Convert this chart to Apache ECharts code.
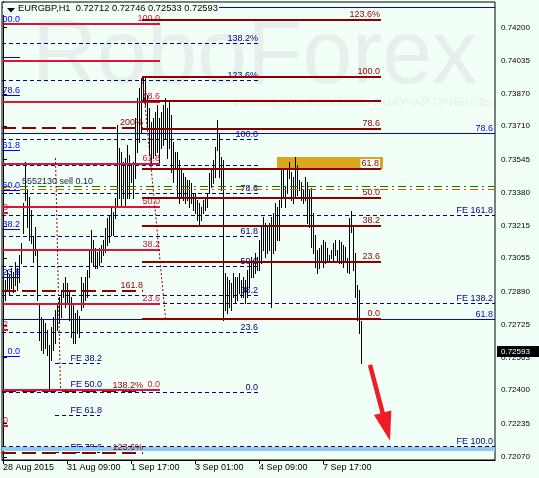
<!DOCTYPE html>
<html><head><meta charset="utf-8">
<script src="https://cdn.jsdelivr.net/npm/echarts@6/dist/echarts.min.js"></script>
<style>html,body{margin:0;padding:0;background:#F2FFF7}#c{width:539px;height:478px}</style>
</head><body><div id="c"></div>
<script>
// ---------- data ----------
const xLabels = ['28 Aug 2015','31 Aug 09:00','1 Sep 17:00','3 Sep 01:00','4 Sep 09:00','7 Sep 17:00'];
const xLabelIdx = [0,32,64,96,128,160];
const yTicks = [0.74200,0.74035,0.73870,0.73710,0.73545,0.73380,0.73215,0.73055,0.72890,0.72725,0.72563,0.72400,0.72235,0.72070];
const headerText = 'EURGBP,H1  0.72712 0.72746 0.72533 0.72593';
const lastClose = 0.72593;

const highs = [0.72986,0.72947,0.72996,0.72972,0.73006,0.72986,0.73036,0.73006,0.73071,0.73130,
0.73328,0.73531,0.73393,0.73358,0.73294,0.73160,0.73209,0.73095,0.72823,0.72764,
0.72749,0.72734,0.72699,0.72625,0.72714,0.72764,0.72798,0.72823,0.72863,0.72897,
0.72932,0.72962,0.72932,0.72897,0.72863,0.72833,0.72783,0.72798,0.72769,0.72962,
0.72932,0.72962,0.72996,0.73095,0.73195,0.73145,0.73105,0.73086,0.73105,0.73120,
0.73145,0.73204,0.73254,0.73269,0.73303,0.73284,0.73353,0.73715,0.73601,0.73581,
0.73531,0.73551,0.73616,0.73566,0.73516,0.73531,0.73749,0.73848,0.73898,0.73947,
0.73947,0.73952,0.73863,0.73799,0.73729,0.73749,0.73779,0.73814,0.73749,0.73779,
0.73814,0.73848,0.73799,0.73829,0.73764,0.73630,0.73581,0.73581,0.73541,0.73492,
0.73477,0.73457,0.73442,0.73442,0.73427,0.73378,0.73378,0.73343,0.73328,0.73308,
0.73343,0.73358,0.73378,0.73477,0.73492,0.73541,0.73606,0.73739,0.73675,0.73556,
0.73541,0.72982,0.72962,0.72947,0.72932,0.72982,0.72962,0.72962,0.72982,0.72947,
0.72962,0.72947,0.72996,0.73031,0.73061,0.73046,0.73081,0.73061,0.73145,0.73209,
0.73259,0.73229,0.73209,0.73229,0.73259,0.73279,0.73328,0.73308,0.73343,0.73502,
0.73492,0.73408,0.73492,0.73531,0.73482,0.73457,0.73556,0.73516,0.73442,0.73432,
0.73393,0.73457,0.73432,0.73393,0.73403,0.73279,0.73170,0.73095,0.73105,0.73120,
0.73145,0.73135,0.73105,0.73071,0.73095,0.73130,0.73145,0.73095,0.73145,0.73135,
0.73120,0.73110,0.73056,0.73254,0.73289,0.73219,0.73081,0.72922,0.72897,0.72746];
const lows = [0.72868,0.72848,0.72897,0.72873,0.72907,0.72887,0.72922,0.72897,0.72937,0.73031,
0.73180,0.73343,0.73209,0.73145,0.73130,0.73036,0.73071,0.72848,0.72650,0.72600,
0.72585,0.72610,0.72575,0.72402,0.72551,0.72600,0.72635,0.72699,0.72734,0.72764,
0.72863,0.72813,0.72833,0.72749,0.72665,0.72635,0.72635,0.72684,0.72665,0.72798,
0.72813,0.72848,0.72863,0.72962,0.73036,0.73021,0.73006,0.73006,0.73021,0.73036,
0.73071,0.73086,0.73120,0.73135,0.73170,0.73170,0.73254,0.73318,0.73353,0.73318,
0.73353,0.73318,0.73353,0.73353,0.73432,0.73353,0.73452,0.73581,0.73630,0.73680,
0.73829,0.73814,0.73700,0.73566,0.73531,0.73551,0.73566,0.73581,0.73516,0.73601,
0.73616,0.73650,0.73551,0.73601,0.73482,0.73432,0.73502,0.73353,0.73328,0.73358,
0.73343,0.73328,0.73343,0.73308,0.73328,0.73294,0.73279,0.73244,0.73219,0.73244,
0.73279,0.73294,0.73308,0.73378,0.73408,0.73427,0.73457,0.73591,0.73457,0.73393,
0.72749,0.72798,0.72783,0.72813,0.72798,0.72863,0.72833,0.72848,0.72882,0.72863,
0.72863,0.72833,0.72863,0.72912,0.72962,0.72962,0.72982,0.72996,0.72996,0.73031,
0.73095,0.73061,0.73081,0.73095,0.72813,0.73081,0.73095,0.73145,0.73145,0.73308,
0.73358,0.73308,0.73378,0.73452,0.73343,0.73328,0.73358,0.73368,0.73393,0.73343,
0.73328,0.73343,0.73229,0.73209,0.73110,0.73081,0.73011,0.72982,0.73006,0.73036,
0.73011,0.73031,0.73046,0.73036,0.73056,0.73046,0.73071,0.73046,0.73031,0.73031,
0.73011,0.73036,0.72986,0.72982,0.73185,0.72996,0.72863,0.72749,0.72684,0.72533];

// Fibonacci objects: anchors are [level, price] pairs
const crimsonLevels = [0,23.6,38.2,50,61.8,78.6,90,100];
const crimsonTexts  = ['0.0','23.6','38.2','50.0','61.8','78.6','','100.0'];
const crimsonAnchors = [[0,0.72401],[100,0.74217]];
const maroonLevels = [0,23.6,38.2,50,61.8,78.6,90,100,123.6];
const maroonTexts  = ['0.0','23.6','38.2','50.0','61.8','78.6','','100.0','123.6%'];
const maroonAnchors = [[0,0.72756],[100,0.73954]];
const navyLevels = [0,23.6,38.2,50,61.8,78.6,90,100,123.6,138.2];
const navyTexts  = ['0.0','23.6','38.2','50.0','61.8','78.6','','100.0','123.6%','138.2%'];
const navyAnchors = [[0,0.72391],[100,0.73642]];
const blueRLevels = [61.8,78.6,90];
const blueRTexts  = ['61.8','78.6',''];
const blueRAnchors = [[61.8,0.72749],[78.6,0.73672]];
const blueLLevels = [0,23.6,38.2,50,61.8,78.6,90,100];
const blueLTexts  = ['0.0','23.6','38.2','50.0','61.8','78.6','','00.0'];
const blueLAnchors = [[0,0.72570],[100,0.74217]];
const expLevels = [123.6,138.2,161.8,200];
const expTexts  = ['123.6%','138.2%','161.8','200%'];
const expAnchors = [[123.6,0.72089],[200,0.73701]];
const feRLevels = [100,138.2,161.8];
const feRTexts  = ['FE 100.0','FE 138.2','FE 161.8'];
const feRAnchors = [[100,0.72123],[161.8,0.73265]];
const feLLevels = [38.2,50,61.8,78.6];
const feLTexts  = ['FE 38.2','FE 50.0','FE 61.8','FE 78.6'];
const feLAnchors = [[38.2,0.72535],[78.6,0.72089]];
const edgePrices = [0.73280,0.72699,0.72223];
const edgeTexts  = ['8','2','0'];

const blue50Price = 0.72101;
const bandPrice = 0.72111;
const greenOrderPrice = 0.73409;
const redOrderPrice = 0.73396;
const orderText = '5552130 sell 0.10';
const boxRange = [137, 190, 0.73557, 0.73497];
const dotted1 = [[26,0.73552],[28.5,0.72401]];
const dotted2 = [[69.5,0.73949],[81,0.72759]];
const arrowPts = [[183.5,0.72526],[193.5,0.72149]];

// ---------- styles ----------
const BG = '#F2FFF7';
const FONT = '"Liberation Sans", Arial, sans-serif';
const CRIMSON = '#DC143C', MAROON = '#8B0000', NAVY = '#000080', BLUE = '#0000FF';

function fibPrice(anchors, lvl){
  const a = anchors[0], b = anchors[1];
  return a[1] + (lvl - a[0]) * (b[1] - a[1]) / (b[0] - a[0]);
}
const levelItems = [];
function addSet(levels, texts, anchors, st){
  levels.forEach((l, i) => levelItems.push(Object.assign({price: fibPrice(anchors, l), text: texts[i]}, st)));
}
function addLine(price, text, st){ levelItems.push(Object.assign({price, text}, st)); }

addSet(navyLevels, navyTexts, navyAnchors, {x1:-0.5, x2:127.5, lx:127.5, color:NAVY, width:1, dash:[4,3]});
addSet(feRLevels, feRTexts, feRAnchors, {x1:-0.5, x2:246, lx:245, color:NAVY, width:1, dash:[4,3]});
addSet(feLLevels, feLTexts, feLAnchors, {x1:26, x2:48.5, lx:49.5, color:NAVY, width:1, dash:[4,3]});
addSet(blueRLevels, blueRTexts, blueRAnchors, {x1:-0.5, x2:246, lx:245, color:BLUE, width:1});
addLine(blue50Price, '', {x1:70, x2:246, lx:245, color:BLUE, width:1});
addLine(bandPrice, '', {x1:-0.5, x2:246, lx:245, color:'#8FCBF0', width:4});
addSet(blueLLevels, blueLTexts, blueLAnchors, {x1:-0.5, x2:8.5, lx:8.5, color:BLUE, width:1});
addSet(expLevels, expTexts, expAnchors, {x1:-0.5, x2:70, lx:70, color:MAROON, width:2, dash:[14,6]});
addSet(crimsonLevels, crimsonTexts, crimsonAnchors, {x1:-0.5, x2:78.5, lx:78.5, color:CRIMSON, width:2});
edgePrices.forEach((p, i) => addLine(p, edgeTexts[i], {x1:-0.5, x2:2.5, lx:2.5, color:CRIMSON, width:2}));
addSet(maroonLevels, maroonTexts, maroonAnchors, {x1:69.5, x2:189, lx:188.5, color:MAROON, width:2});
addLine(greenOrderPrice, orderText, {x1:-0.5, x2:246, lx:9.5, color:'#008000', width:1, dash:[8,4,2,4], labelLeft:true, labelColor:'#1a1a3a'});
addLine(redOrderPrice, '', {x1:-0.5, x2:246, lx:245, color:'#FF4500', width:1, dash:[8,4,2,4]});

function crisp(v, w){ return (Math.round(w) % 2 === 1) ? Math.floor(v) + 0.5 : Math.round(v); }

const chart = echarts.init(document.getElementById('c'), null, {renderer:'canvas'});
chart.setOption({
  backgroundColor: BG,
  animation: false,
  grid: {left:2, right:44, top:2, bottom:18, show:true, borderColor:'#000', borderWidth:1, backgroundColor:'transparent'},
  xAxis: {
    type:'value', min:-0.5, max:246,
    axisLine:{show:true, lineStyle:{color:'#000', width:1}},
    splitLine:{show:false},
    axisTick:{show:true, customValues:xLabelIdx, length:4, lineStyle:{color:'#000'}},
    axisLabel:{customValues:xLabelIdx, formatter:v => xLabels[xLabelIdx.indexOf(Math.round(v))] || '',
      align:'left', margin:3, fontSize:9, fontFamily:'Liberation Sans', color:'#000'}
  },
  yAxis: {
    type:'value', position:'right', min:0.72054, max:0.743265,
    axisLine:{show:true, lineStyle:{color:'#000', width:1}},
    splitLine:{show:false},
    axisTick:{show:true, customValues:yTicks, length:4, lineStyle:{color:'#000'}},
    axisLabel:{customValues:yTicks, formatter:v => v.toFixed(5), margin:6, fontSize:8, fontFamily:'Liberation Sans', color:'#000'}
  },
  graphic: [
    {type:'text', z:-5, silent:true, left:32, top:13, style:{text:'RoboForex', font:'90px ' + FONT, fill:'#E6EFEB'}},
    {type:'text', z:-5, silent:true, left:234, top:97, style:{text:'ИСПОЛЬЗУЙ РОБОТОВ - ПОЛУЧАЙ ПРИБЫЛЬ', font:'11.5px ' + FONT, fill:'#E6EFEB'}},
    {type:'rect', z:100, silent:true, shape:{x:3, y:3, width:216, height:12}, style:{fill:BG}},
    {type:'polygon', z:101, silent:true, shape:{points:[[7,8],[15,8],[11,12.5]]}, style:{fill:'#000'}},
    {type:'text', z:101, silent:true, left:18, top:4, style:{text:headerText, font:'9.3px ' + FONT, fill:'#000'}}
  ],
  series: [
    { // rectangle object (background)
      type:'custom', coordinateSystem:'cartesian2d', silent:true, clip:false,
      data:[boxRange], encode:{x:[0,1], y:[2,3]},
      renderItem:(params, api) => {
        const a = api.coord([api.value(0), api.value(2)]), b = api.coord([api.value(1), api.value(3)]);
        return {type:'rect', shape:{x:Math.round(a[0]), y:Math.round(a[1]), width:Math.round(b[0]-a[0]), height:Math.round(b[1]-a[1])}, style:{fill:'#DAA520'}};
      }
    },
    { // price bars
      type:'custom', coordinateSystem:'cartesian2d', silent:true, clip:false,
      data: highs.map((h, i) => [i, h, lows[i]]), encode:{x:0, y:[1,2]},
      renderItem:(params, api) => {
        const a = api.coord([api.value(0), api.value(1)]), b = api.coord([api.value(0), api.value(2)]);
        const x = Math.floor(a[0]) + 0.5;
        return {type:'line', shape:{x1:x, y1:Math.round(a[1]), x2:x, y2:Math.round(b[1])+1}, style:{stroke:'#000', lineWidth:1}};
      }
    },
    { // horizontal levels
      type:'custom', coordinateSystem:'cartesian2d', silent:true, clip:false,
      data: levelItems.map(d => [d.x1, d.x2, d.price]), encode:{x:[0,1], y:2},
      renderItem:(params, api) => {
        const d = levelItems[params.dataIndex];
        const a = api.coord([api.value(0), api.value(2)]), b = api.coord([api.value(1), api.value(2)]);
        const y = crisp(a[1], d.width);
        const ch = [{type:'line', shape:{x1:Math.round(a[0]), y1:y, x2:Math.round(b[0]), y2:y},
          style:{stroke:d.color, lineWidth:d.width, lineDash:d.dash || null, fill:null}}];
        if (d.text) {
          const lx = api.coord([d.lx, api.value(2)])[0];
          const st = {text:d.text, x:Math.round(lx), y:Math.round(y - d.width/2 - 0.5), fill:d.labelColor || d.color,
            font:'9px ' + FONT, textAlign:d.labelLeft ? 'left' : 'right', textVerticalAlign:'bottom',
            align:d.labelLeft ? 'left' : 'right', verticalAlign:'bottom'};
          if (d.color === MAROON && d.text === '61.8' && !d.dash) { st.backgroundColor = BG; st.padding = [0,1,0,1]; }
          ch.push({type:'text', style:st});
        }
        return {type:'group', children:ch};
      }
    },
    { // dotted base lines of the fib objects
      type:'custom', coordinateSystem:'cartesian2d', silent:true, clip:false,
      data:[[dotted1[0][0], dotted1[0][1], dotted1[1][0], dotted1[1][1]], [dotted2[0][0], dotted2[0][1], dotted2[1][0], dotted2[1][1]]],
      encode:{x:[0,2], y:[1,3]},
      renderItem:(params, api) => {
        const a = api.coord([api.value(0), api.value(1)]), b = api.coord([api.value(2), api.value(3)]);
        return {type:'line', shape:{x1:a[0]+0.5, y1:a[1], x2:b[0]+0.5, y2:b[1]}, style:{stroke:MAROON, lineWidth:1, lineDash:[2,2]}};
      }
    },
    { // arrow
      type:'custom', coordinateSystem:'cartesian2d', silent:true, clip:false,
      data:[[arrowPts[0][0], arrowPts[0][1], arrowPts[1][0], arrowPts[1][1]]], encode:{x:[0,2], y:[1,3]},
      renderItem:(params, api) => {
        const a = api.coord([api.value(0), api.value(1)]), b = api.coord([api.value(2), api.value(3)]);
        const dx = b[0]-a[0], dy = b[1]-a[1], L = Math.hypot(dx, dy), ux = dx/L, uy = dy/L, nx = -uy, ny = ux;
        const hl = 29, hw = 9;
        const bx = b[0]-ux*hl, by = b[1]-uy*hl;
        return {type:'group', children:[
          {type:'line', shape:{x1:a[0], y1:a[1], x2:bx+ux*2, y2:by+uy*2}, style:{stroke:'#EE1C25', lineWidth:4.5}},
          {type:'polygon', shape:{points:[[b[0],b[1]],[bx+nx*hw,by+ny*hw],[bx-nx*hw,by-ny*hw]]}, style:{fill:'#EE1C25'}}
        ]};
      }
    },
    { // last price tag
      type:'custom', coordinateSystem:'cartesian2d', silent:true, clip:false, z:5,
      data:[[246, lastClose]], encode:{x:0, y:1},
      renderItem:(params, api) => {
        const p = api.coord([api.value(0), api.value(1)]);
        const y = Math.round(p[1]);
        return {type:'group', children:[
          {type:'rect', shape:{x:Math.round(p[0])+2, y:y-5, width:44, height:11}, style:{fill:'#000'}},
          {type:'text', style:{text:lastClose.toFixed(5), x:Math.round(p[0])+6, y:y+0.5, fill:'#fff', font:'8px ' + FONT,
            textAlign:'left', textVerticalAlign:'middle', align:'left', verticalAlign:'middle'}}
        ]};
      }
    }
  ]
});
</script></body></html>
